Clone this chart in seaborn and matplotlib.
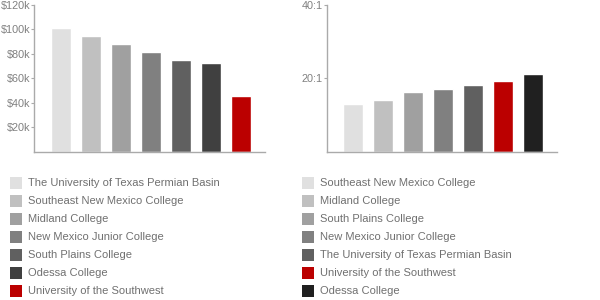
import matplotlib
matplotlib.use("Agg")
import matplotlib.pyplot as plt
from matplotlib.patches import Rectangle
import seaborn as sns

# Salário médio (esquerda) e razão aluno/professor (direita)
salary_schools = ["The University of Texas Permian Basin", "Southeast New Mexico College",
                  "Midland College", "New Mexico Junior College", "South Plains College",
                  "Odessa College", "University of the Southwest"]
salary_values = [101000, 94000, 87500, 81000, 75000, 72500, 45500]
salary_colors = ["#e0e0e0", "#c0c0c0", "#a0a0a0", "#808080", "#606060", "#404040", "#bb0000"]

ratio_schools = ["Southeast New Mexico College", "Midland College", "South Plains College",
                 "New Mexico Junior College", "The University of Texas Permian Basin",
                 "University of the Southwest", "Odessa College"]
ratio_values = [13.1, 14.2, 16.2, 17.2, 18.2, 19.3, 21.2]
ratio_colors = ["#e0e0e0", "#c0c0c0", "#a0a0a0", "#808080", "#606060", "#bb0000", "#202020"]

salary_ticks = [20000, 40000, 60000, 80000, 100000, 120000]
salary_ticklabels = ["$20k", "$40k", "$60k", "$80k", "$100k", "$120k"]
ratio_ticks = [20, 40]
ratio_ticklabels = ["20:1", "40:1"]

sns.set_style("white")
plt.rcParams["font.family"] = ["Liberation Sans", "DejaVu Sans"]

fig = plt.figure(figsize=(6, 3), dpi=100)
ax1 = fig.add_axes([34 / 600, 1 - 152 / 300, 231 / 600, 147.5 / 300])
ax2 = fig.add_axes([327 / 600, 1 - 152 / 300, 230 / 600, 147.5 / 300])

def draw(ax, names, values, colors, ticks, ticklabels, ymax, xlim):
    sns.barplot(x=names, y=values, hue=names, palette=colors, legend=False,
                width=0.667, saturation=1, ax=ax)
    ax.set_ylim(0, ymax)
    ax.set_xlim(*xlim)
    ax.set_xticks([])
    ax.set_yticks(ticks)
    ax.set_yticklabels(ticklabels)
    ax.tick_params(axis="y", left=True, length=2.5, width=0.8, color="#aaaaaa",
                   labelcolor="#808080", labelsize=7.8, pad=0.3)
    for s in ["top", "right"]:
        ax.spines[s].set_visible(False)
    for s in ["left", "bottom"]:
        ax.spines[s].set_color("#aaaaaa")
        ax.spines[s].set_linewidth(1)
    ax.set_xlabel("")
    ax.set_ylabel("")

draw(ax1, salary_schools, salary_values, salary_colors, salary_ticks,
     salary_ticklabels, 120000, (-0.9, 6.8))
draw(ax2, ratio_schools, ratio_values, ratio_colors, ratio_ticks,
     ratio_ticklabels, 40, (-0.87, 6.8))

# Legendas desenhadas à mão
def legend(x0, names, colors):
    for i, (name, col) in enumerate(zip(names, colors)):
        yc = 183 + 18 * i
        fig.add_artist(Rectangle((x0 / 600, 1 - (yc + 6) / 300), 12 / 600, 12 / 300,
                                 transform=fig.transFigure, color=col, lw=0))
        fig.text((x0 + 18) / 600, 1 - yc / 300, name, va="center", ha="left",
                 fontsize=8, color="#707070")

legend(10, salary_schools, salary_colors)
legend(302, ratio_schools, ratio_colors)

fig.savefig("out.png", dpi=100)
